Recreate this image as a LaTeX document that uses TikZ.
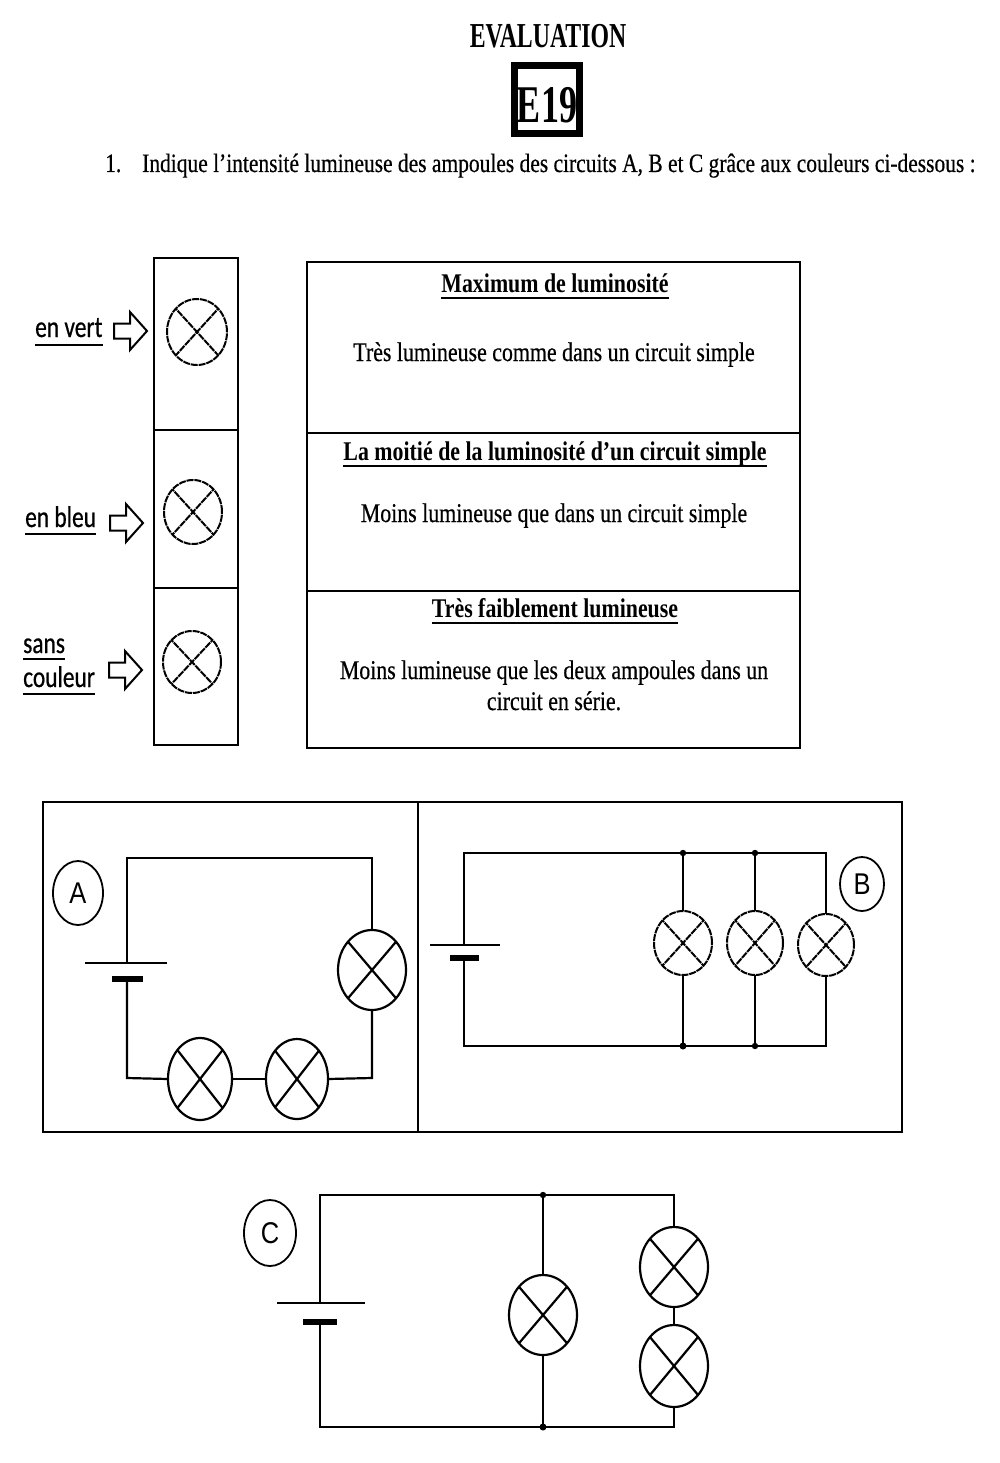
\documentclass[tikz,border=0pt]{standalone}
\usepackage{fontspec}
\setmainfont{Liberation Serif}
\newfontfamily\tnrfont[FakeStretch=0.81,FakeBold=0.5]{Liberation Serif}
\newfontfamily\tnbfont[FakeStretch=0.81]{Liberation Serif Bold}
\newfontfamily\ttlfont[FakeStretch=0.68]{Liberation Serif Bold}
\newfontfamily\calfont[FakeStretch=0.78,FakeBold=0.6]{Carlito}
\newfontfamily\lblfont[FakeStretch=0.85]{Liberation Sans}
\usetikzlibrary{shapes.geometric}
\begin{document}
\begin{tikzpicture}[x=1pt,y=-1pt,
  wire/.style={line width=2.2pt, line join=miter},
  frame/.style={line width=2pt},
  lamp/.style={ellipse, draw, line width=2.2pt, inner sep=0pt, outer sep=0pt,
    path picture={\draw[line width=2.2pt] (path picture bounding box.north west) -- (path picture bounding box.south east)
      (path picture bounding box.north east) -- (path picture bounding box.south west);}},
  dlamp/.style={ellipse, draw, line width=2pt, inner sep=0pt, outer sep=0pt, dash pattern=on 7pt off 0.9pt,
    path picture={\draw[line width=2pt, dash pattern=on 7pt off 0.9pt] (path picture bounding box.north west) -- (path picture bounding box.south east)
      (path picture bounding box.north east) -- (path picture bounding box.south west);}},
  plus/.style={line width=2.2pt},
  minus/.style={line width=5.5pt},
  clabel/.style={ellipse, draw, line width=1.8pt, inner sep=0pt, font=\lblfont\fontsize{30}{30}\selectfont},
  body/.style={inner sep=0pt, font=\tnrfont\fontsize{27}{30}\selectfont},
  head/.style={inner sep=0pt, font=\tnbfont\fontsize{27}{30}\selectfont},
  leg/.style={inner sep=0pt, anchor=base west, font=\calfont\fontsize{30}{30}\selectfont},
  uline/.style={line width=2pt},
  hollow/.style={line width=2pt, line join=miter},
  dot/.style={fill=black}
]
\useasboundingbox (0,0) rectangle (1000,1463);

% ---------- title ----------
\node[inner sep=0pt, anchor=base, font=\ttlfont\fontsize{35}{35}\selectfont] (ev) at (548,48) {EVALUATION};
\node[draw, line width=7pt, minimum width=65pt, minimum height=68pt, inner sep=0pt] (ebox) at (547,100) {};
\node[inner sep=0pt, anchor=base, font=\ttlfont\fontsize{53}{53}\selectfont] (e19) at (547,123) {E19};
\node[inner sep=0pt, anchor=base west, font=\tnrfont\fontsize{26.5}{30}\selectfont] (q1) at (105,172) {1.};
\node[inner sep=0pt, anchor=base west, font=\tnrfont\fontsize{26.5}{30}\selectfont] (q1t) at (142,172) {Indique l’intensité lumineuse des ampoules des circuits A, B et C grâce aux couleurs ci-dessous :};

% ---------- legend column ----------
\draw[frame] (154,258) rectangle (238,745);
\draw[frame] (154,430) -- (238,430);
\draw[frame] (154,588) -- (238,588);
\node[dlamp, minimum width=60pt, minimum height=66pt] (l1) at (197,332) {};
\node[dlamp, minimum width=58pt, minimum height=64pt] (l2) at (193,512) {};
\node[dlamp, minimum width=58pt, minimum height=62pt] (l3) at (192,662) {};

% arrows
\draw[hollow] (114,323.5) -- (130,323.5) -- (130,312) -- (147,331) -- (130,350) -- (130,338.5) -- (114,338.5) -- cycle;
\draw[hollow] (110,515.5) -- (126,515.5) -- (126,504) -- (143,523) -- (126,542) -- (126,530.5) -- (110,530.5) -- cycle;
\draw[hollow] (109,662.5) -- (125,662.5) -- (125,651) -- (142,670) -- (125,689) -- (125,677.5) -- (109,677.5) -- cycle;

% legend labels
\node[leg] (tv) at (35,337) {en vert};
\draw[uline] ([yshift=-8pt]tv.base west) -- ([yshift=-8pt]tv.base east);
\node[leg] (tb) at (25,527) {en bleu};
\draw[uline] ([yshift=-7pt]tb.base west) -- ([yshift=-7pt]tb.base east);
\node[leg] (ts) at (23,653) {sans};
\draw[uline] ([yshift=-6pt]ts.base west) -- ([yshift=-6pt]ts.base east);
\node[leg] (tc) at (23,687) {couleur};
\draw[uline] ([yshift=-7pt]tc.base west) -- ([yshift=-7pt]tc.base east);

% ---------- description box ----------
\draw[frame] (307,262) rectangle (800,748);
\draw[frame] (307,433) -- (800,433);
\draw[frame] (307,591) -- (800,591);
\node[head, anchor=base] (h1) at (555,292) {Maximum de luminosité};
\draw[uline] ([yshift=-6pt]h1.base west) -- ([yshift=-6pt]h1.base east);
\node[body, anchor=base] (d1) at (554,361) {Très lumineuse comme dans un circuit simple};
\node[head, anchor=base] (h2) at (555,460) {La moitié de la luminosité d’un circuit simple};
\draw[uline] ([yshift=-6pt]h2.base west) -- ([yshift=-6pt]h2.base east);
\node[body, anchor=base] (d2) at (554,522) {Moins lumineuse que dans un circuit simple};
\node[head, anchor=base] (h3) at (555,617) {Très faiblement lumineuse};
\draw[uline] ([yshift=-6pt]h3.base west) -- ([yshift=-6pt]h3.base east);
\node[body, anchor=base] (d3) at (554,679) {Moins lumineuse que les deux ampoules dans un};
\node[body, anchor=base] (d4) at (554,710) {circuit en série.};

% ---------- circuits A and B frame ----------
\draw[frame] (43,802) rectangle (902,1132);
\draw[frame] (418,802) -- (418,1132);

% ---------- circuit A ----------
\node[clabel, minimum width=50pt, minimum height=64pt] (labA) at (78,893) {A};
\node[lamp, minimum width=68pt, minimum height=80pt] (a3) at (372,970) {};
\node[lamp, minimum width=64pt, minimum height=82pt] (a1) at (200,1079) {};
\node[lamp, minimum width=62pt, minimum height=80pt] (a2) at (297,1079) {};
\coordinate (aP) at (127,963);
\coordinate (aN) at (127,979);
\coordinate (aTL) at (127,858);
\coordinate (aTR) at (372,858);
\coordinate (aBL) at (127,1078);
\coordinate (aBR) at (372,1078);
\draw[wire] (aP) -- (aTL) -- (aTR) -- (a3.north);
\draw[wire] (aN) -- (aBL) -- (a1.west);
\draw[wire] (a1.east) -- (a2.west);
\draw[wire] (a2.east) -- (aBR) -- (a3.south);
\draw[plus] ([xshift=-42pt]aP) -- ([xshift=40pt]aP);
\draw[minus] ([xshift=-15pt]aN) -- ([xshift=16pt]aN);

% ---------- circuit B ----------
\node[clabel, minimum width=44pt, minimum height=54pt] (labB) at (862,884) {B};
\node[dlamp, minimum width=58pt, minimum height=64pt] (b1) at (683,943) {};
\node[dlamp, minimum width=56pt, minimum height=64pt] (b2) at (755,943) {};
\node[dlamp, minimum width=56pt, minimum height=62pt] (b3) at (826,945) {};
\coordinate (bP) at (464,945);
\coordinate (bN) at (464,958);
\coordinate (bTL) at (464,853);
\coordinate (bJ1) at (683,853);
\coordinate (bJ2) at (755,853);
\coordinate (bTR) at (826,853);
\coordinate (bBL) at (464,1046);
\coordinate (bK1) at (683,1046);
\coordinate (bK2) at (755,1046);
\coordinate (bBR) at (826,1046);
\draw[wire] (bP) -- (bTL) -- (bJ1) -- (bJ2) -- (bTR) -- (b3.north);
\draw[wire] (bJ1) -- (b1.north);
\draw[wire] (bJ2) -- (b2.north);
\draw[wire] (bN) -- (bBL) -- (bK1) -- (bK2) -- (bBR) -- (b3.south);
\draw[wire] (bK1) -- (b1.south);
\draw[wire] (bK2) -- (b2.south);
\draw[plus] ([xshift=-34pt]bP) -- ([xshift=36pt]bP);
\draw[minus] ([xshift=-14pt]bN) -- ([xshift=15pt]bN);
\fill[dot] (bJ1) circle (3.2pt) (bJ2) circle (3.2pt) (bK1) circle (3.5pt) (bK2) circle (3.2pt);

% ---------- circuit C ----------
\node[clabel, minimum width=52pt, minimum height=66pt] (labC) at (270,1233) {C};
\node[lamp, minimum width=68pt, minimum height=80pt] (c1) at (543,1315) {};
\node[lamp, minimum width=68pt, minimum height=80pt] (c2) at (674,1267) {};
\node[lamp, minimum width=68pt, minimum height=82pt] (c3) at (674,1366) {};
\coordinate (cP) at (320,1303);
\coordinate (cN) at (320,1322);
\coordinate (cTL) at (320,1195);
\coordinate (cJ) at (543,1195);
\coordinate (cTR) at (674,1195);
\coordinate (cBL) at (320,1427);
\coordinate (cK) at (543,1427);
\coordinate (cBR) at (674,1427);
\draw[wire] (cP) -- (cTL) -- (cJ) -- (cTR) -- (c2.north);
\draw[wire] (cJ) -- (c1.north);
\draw[wire] (c2.south) -- (c3.north);
\draw[wire] (cN) -- (cBL) -- (cK) -- (cBR) -- (c3.south);
\draw[wire] (cK) -- (c1.south);
\draw[plus] ([xshift=-43pt]cP) -- ([xshift=45pt]cP);
\draw[minus] ([xshift=-17pt]cN) -- ([xshift=17pt]cN);
\fill[dot] (cJ) circle (3.2pt) (cK) circle (3.5pt);
\end{tikzpicture}
\end{document}
